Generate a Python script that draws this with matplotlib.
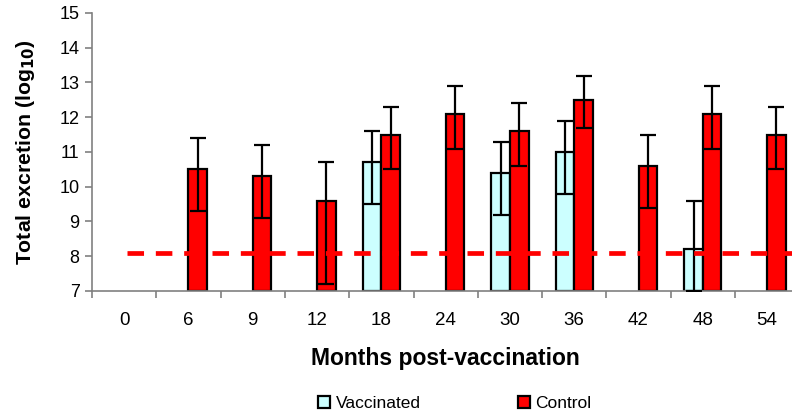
import matplotlib
matplotlib.use('Agg')
import matplotlib.pyplot as plt
import numpy as np

plt.rcParams['font.family'] = ['Liberation Sans', 'DejaVu Sans']

months = ['0', '6', '9', '12', '18', '24', '30', '36', '42', '48', '54']
# nan = no bar at that time point
vacc = [np.nan, np.nan, np.nan, np.nan, 10.7, np.nan, 10.4, 11.0, np.nan, 8.2, np.nan]
vacc_up = [0, 0, 0, 0, 0.9, 0, 0.9, 0.9, 0, 1.4, 0]
vacc_lo = [0, 0, 0, 0, 1.2, 0, 1.2, 1.2, 0, 1.2, 0]
ctrl = [np.nan, 10.5, 10.3, 9.6, 11.5, 12.1, 11.6, 12.5, 10.6, 12.1, 11.5]
ctrl_up = [0, 0.9, 0.9, 1.1, 0.8, 0.8, 0.8, 0.7, 0.9, 0.8, 0.8]
ctrl_lo = [0, 1.2, 1.2, 2.4, 1.0, 1.0, 1.0, 0.8, 1.2, 1.0, 1.0]
threshold = 8.1

fig = plt.figure(figsize=(7.92, 4.12), dpi=100)
ax = fig.add_axes([0.1162, 0.2937, 0.893, 0.6748])

x = np.arange(len(months))
w = 0.29
vb = np.array(vacc) - 7
cb = np.array(ctrl) - 7
ax.bar(x - w / 2, vb, w, bottom=7, color='#CCFFFF', edgecolor='black', linewidth=1.6,
       label='Vaccinated', zorder=2)
ax.bar(x + w / 2, cb, w, bottom=7, color='#FF0000', edgecolor='black', linewidth=1.6,
       label='Control', zorder=2)
ax.errorbar(x - w / 2, vacc, yerr=[vacc_lo, vacc_up], fmt='none', ecolor='black',
            elinewidth=1.6, capsize=5.8, capthick=1.6, zorder=3)
ax.errorbar(x + w / 2, ctrl, yerr=[ctrl_lo, ctrl_up], fmt='none', ecolor='black',
            elinewidth=1.6, capsize=5.8, capthick=1.6, zorder=3)

ax.plot([0.05, 10.9], [threshold, threshold], color='#FF0000', lw=3.4,
        dashes=(3.5, 2.5), zorder=4, clip_on=False)

ax.set_xlim(-0.5, 10.5)
ax.set_ylim(7, 15)
ax.set_yticks(range(7, 16))
ax.set_xticks(x)
ax.set_xticklabels(months, fontsize=13.5)
ax.set_xticks(np.arange(-0.5, 11, 1), minor=True)
ax.tick_params(axis='x', which='major', length=0, pad=15)
ax.tick_params(axis='x', which='minor', length=5, color='#808080', width=1.2)
ax.tick_params(axis='y', length=5, color='#808080', width=1.2, labelsize=13, pad=4)

for s in ['top', 'right']:
    ax.spines[s].set_visible(False)
for s in ['left', 'bottom']:
    ax.spines[s].set_color('#808080')
    ax.spines[s].set_linewidth(1.2)

ax.set_ylabel('Total excretion (log$_{\\mathbf{10}}$)', fontsize=15.3, fontweight='bold', labelpad=16)
ax.set_xlabel('Months post-vaccination', fontsize=16.5, fontweight='bold', labelpad=13)

fig.legend(loc='lower center', bbox_to_anchor=(0.574, -0.035), ncol=2, frameon=False,
           fontsize=12.5, handlelength=0.7, handleheight=0.7, handletextpad=0.3,
           columnspacing=5.6)

fig.savefig('out.png', dpi=100)
